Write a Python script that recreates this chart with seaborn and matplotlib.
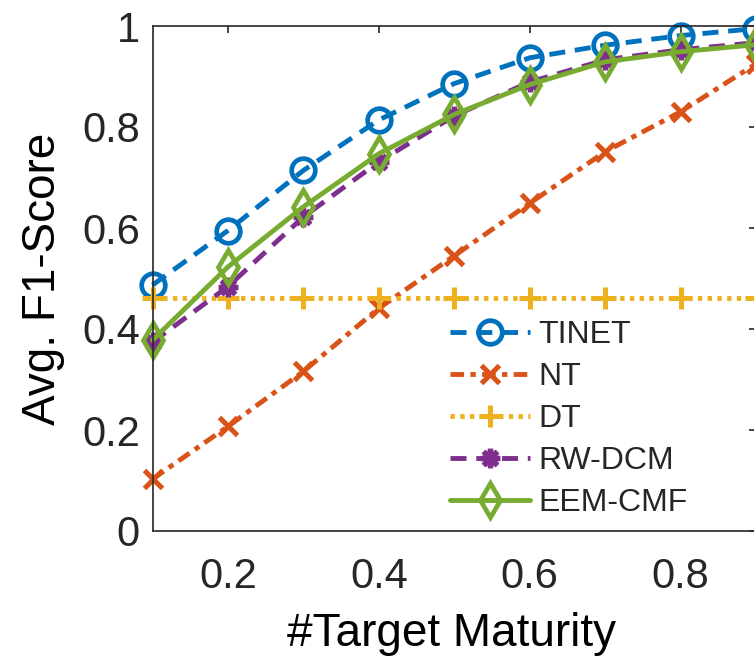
import matplotlib
matplotlib.use("Agg")
import matplotlib.pyplot as plt
import seaborn as sns
import pandas as pd

# Target maturity levels
maturity = [0.1, 0.2, 0.3, 0.4, 0.5, 0.6, 0.7, 0.8, 0.9]

# Average F1-score per method
tinet = [0.487, 0.595, 0.714, 0.814, 0.886, 0.937, 0.962, 0.981, 0.995]
nt = [0.103, 0.207, 0.316, 0.441, 0.545, 0.649, 0.751, 0.830, 0.925]
dt = [0.461, 0.461, 0.461, 0.461, 0.461, 0.461, 0.461, 0.461, 0.461]
rw_dcm = [0.374, 0.484, 0.622, 0.731, 0.822, 0.889, 0.933, 0.953, 0.967]
eem_cmf = [0.378, 0.523, 0.642, 0.747, 0.825, 0.884, 0.929, 0.949, 0.963]

methods = ["TINET", "NT", "DT", "RW-DCM", "EEM-CMF"]
series = [tinet, nt, dt, rw_dcm, eem_cmf]

x_ticks = [0.2, 0.4, 0.6, 0.8]
y_ticks = [0, 0.2, 0.4, 0.6, 0.8, 1]
y_tick_labels = ["0", "0.2", "0.4", "0.6", "0.8", "1"]

sns.set_theme(style="white")
plt.rcParams["font.family"] = ["Liberation Sans", "DejaVu Sans"]

df = pd.concat(
    [pd.DataFrame({"maturity": maturity, "f1": vals, "method": name})
     for name, vals in zip(methods, series)],
    ignore_index=True,
)

colors = {"TINET": "#0072BD", "NT": "#D95319", "DT": "#EDB120",
          "RW-DCM": "#7E2F8E", "EEM-CMF": "#77AC30"}

styles = {
    "TINET":   dict(linestyle=(0, (3.3, 2.0)), marker="o", markersize=17,
                    markerfacecolor="none", markeredgewidth=3.4),
    "NT":      dict(linestyle=(0, (2.8, 1.3, 1.1, 1.3)), marker="x", markersize=13,
                    markeredgewidth=3.6),
    "DT":      dict(linestyle=(0, (0.9, 1.1)), marker="+", markersize=16,
                    markeredgewidth=3.6),
    "RW-DCM":  dict(linestyle=(0, (3.3, 2.0)), marker=(8, 2, 0), markersize=14,
                    markeredgewidth=3.8),
    "EEM-CMF": dict(linestyle="-", marker="d", markersize=17,
                    markerfacecolor="none", markeredgewidth=3.4),
}

fig = plt.figure(figsize=(7.54, 6.58), dpi=100)
ax = fig.add_axes([152.5 / 754, 1 - 531 / 658, (756 - 152.5) / 754, (531 - 26) / 658])

handles = []
for name in methods:
    sub = df[df["method"] == name]
    sns.lineplot(data=sub, x="maturity", y="f1", ax=ax, estimator=None, sort=False,
                 color=colors[name], linewidth=3.5, legend=False)
    line = ax.lines[-1]
    line.set(clip_on=False, markeredgecolor=colors[name], **styles[name])
    if styles[name].get("markerfacecolor") is None:
        line.set_markerfacecolor(colors[name])
    handles.append(line)

ax.set_xlim(0.1, 0.9)
ax.set_ylim(0, 1)
ax.set_xticks(x_ticks)
ax.set_xticklabels([f"{t:g}" for t in x_ticks])
ax.set_yticks(y_ticks)
ax.set_yticklabels(y_tick_labels)

edge = (0.15, 0.15, 0.15)
for side in ["left", "right", "top", "bottom"]:
    ax.spines[side].set_visible(True)
    ax.spines[side].set_color(edge)
    ax.spines[side].set_linewidth(1.2)

ax.tick_params(axis="both", which="major", direction="in", length=5, width=1.2,
               colors=edge, labelsize=30, top=True, right=True)
ax.tick_params(axis="x", pad=19)
ax.tick_params(axis="y", pad=9)

ax.set_xlabel("#Target Maturity", fontsize=33, color="black")
ax.set_ylabel("Avg. F1-Score", fontsize=33, color="black")
ax.xaxis.set_label_coords(0.496, -0.160)
ax.yaxis.set_label_coords(-0.145, 0.5)

ax.legend(handles=handles, labels=methods, loc="upper left", bbox_to_anchor=(0.493, 0.418),
          frameon=False, fontsize=23, handlelength=2.5, handletextpad=0.26,
          labelspacing=0.38, borderpad=0, borderaxespad=0)

fig.savefig("out.png", dpi=100)
